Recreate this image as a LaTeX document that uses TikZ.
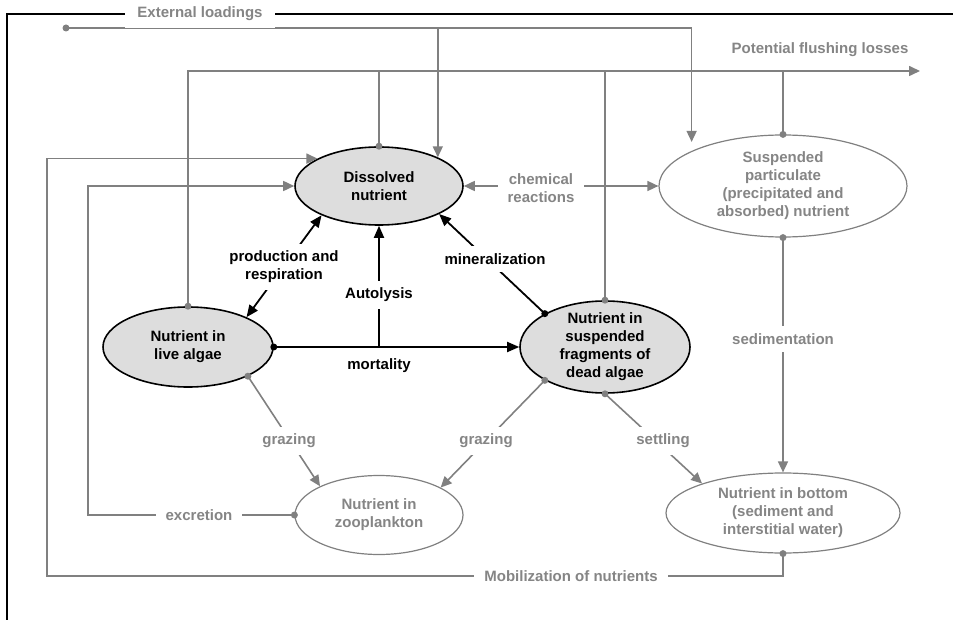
\documentclass[tikz,border=0pt]{standalone}
\usepackage{fontspec}
\setmainfont{Liberation Sans}
\usetikzlibrary{arrows.meta,shapes.geometric,calc}
\definecolor{gline}{HTML}{808080}
\definecolor{gtext}{HTML}{858585}
\definecolor{efill}{HTML}{DDDDDD}
\begin{document}
\begin{tikzpicture}[x=1pt,y=-1pt,
  font=\bfseries\fontsize{15}{18}\selectfont,
  bell/.style={ellipse, draw=black, line width=1.6pt, fill=efill, inner sep=0pt},
  gell/.style={ellipse, draw=gline, line width=1.2pt, fill=white, inner sep=0pt},
  txt/.style={align=center, text=black},
  gtxt/.style={align=center, text=gtext},
  lab/.style={fill=white, inner xsep=10pt, inner ysep=7pt, align=center},
  gcon/.style={draw=gline, line width=1.6pt},
  bcon/.style={draw=black, line width=1.8pt},
  gtip/.style={-{Triangle[length=11pt,width=10pt]}},
  gtips/.style={{Triangle[length=11pt,width=10pt]}-{Triangle[length=11pt,width=10pt]}},
  btip/.style={-{Triangle[length=12pt,width=10pt]}},
  btips/.style={{Triangle[length=12pt,width=10pt]}-{Triangle[length=12pt,width=10pt]}},
]
\useasboundingbox (0,0) rectangle (953,620);

% ellipses
\node[bell, minimum width=168pt, minimum height=78pt] (dis) at (379,186) {};
\node[bell, minimum width=170pt, minimum height=80pt] (live) at (188,347) {};
\node[bell, minimum width=170pt, minimum height=92pt] (dead) at (605,347) {};
\node[gell, minimum width=248pt, minimum height=102pt] (susp) at (783,186) {};
\node[gell, minimum width=168pt, minimum height=79pt] (zoo) at (379,515) {};
\node[gell, minimum width=234pt, minimum height=80pt] (bot) at (783,513) {};

\node[txt] (distxt) at (dis) {Dissolved\\nutrient};
\node[txt] (livetxt) at (live) {Nutrient in\\live algae};
\node[txt] (deadtxt) at (dead) {Nutrient in\\suspended\\fragments of\\dead algae};
\node[gtxt] (susptxt) at (susp) {Suspended\\particulate\\(precipitated and\\absorbed) nutrient};
\node[gtxt] (zootxt) at (zoo) {Nutrient in\\zooplankton};
\node[gtxt] (bottxt) at (bot) {Nutrient in bottom\\(sediment and\\interstitial water)};

% frame
\coordinate (frameR) at (953,14);
\coordinate (frameC) at (7,14);
\coordinate (frameB) at (7,620);
\draw[black, line width=1.1pt] (frameR) -- (frameC) -- (frameB);

% flushing losses
\coordinate (flushEnd) at (920,71);
\draw[gcon, gtip] (live.north) |- (flushEnd);
\draw[gcon] (dis.north) -- (dis.north |- flushEnd);
\draw[gcon] (dead.north) -- (dead.north |- flushEnd);
\draw[gcon] (susp.north) -- (susp.north |- flushEnd);
\foreach \p in {live.north, dis.north, dead.north, susp.north}
  \fill[gline] (\p) circle (3.5);

% external loadings
\coordinate (extStart) at (66,28);
\draw[gcon, gtip, shorten >=9pt] (extStart) -| (susp.159.2);
\draw[gcon, gtip] (extStart -| dis.26) -- (dis.26);
\fill[gline] (extStart) circle (3.5);

% mobilization of nutrients
\coordinate (mobL) at (47,576);
\draw[gcon, gtip] (bot.south) |- (mobL) |- (dis.156);
\fill[gline] (bot.south) circle (3.5);

% excretion
\coordinate (exL) at (88,515);
\draw[gcon, gtip] (zoo.west) -- (exL) |- (dis.west);
\fill[gline] (zoo.west) circle (3.5);

% chemical reactions
\draw[gcon, gtips] (dis.east) -- (susp.west);

% sedimentation
\draw[gcon, gtip] (susp.south) -- (bot.north);
\fill[gline] (susp.south) circle (3.5);

% settling
\draw[gcon, gtip] (dead.south) -- (bot.160);
\fill[gline] (dead.south) circle (3.5);

% grazing
\draw[gcon, gtip] (live.-26) -- (zoo.154);
\fill[gline] (live.-26) circle (3.5);
\draw[gcon, gtip] (dead.-151) -- (zoo.24);
\fill[gline] (dead.-151) circle (3.5);

% black connectors
\draw[bcon, btip] (live.east) -- (dead.west);
\fill[black] (live.east) circle (3.5);
\draw[bcon, btip] (dis.south |- live.east) -- (dis.south);
\draw[bcon, btips] (live.27) -- (dis.-153);
\draw[bcon, btip] (dead.151) -- (dis.-25);
\fill[black] (dead.151) circle (3.5);

% labels
\node[lab, text=gtext, inner xsep=12pt] (lext) at (200,14) {External loadings};
\node[gtxt] (lflush) at (820,50) {Potential flushing losses};
\node[lab, text=gtext] (lchem) at (541,188) {chemical\\reactions};
\node[lab] (lprod) at (284,267) {production and\\respiration};
\node[lab] (lauto) at (379,295) {Autolysis};
\node[lab] (lmin) at (495,259) {mineralization};
\node (lmort) at (379,366) {mortality};
\node[lab, text=gtext] (lsed) at (783,339) {sedimentation};
\node[lab, text=gtext] (lgr1) at (289,441) {grazing};
\node[lab, text=gtext] (lgr2) at (486,441) {grazing};
\node[lab, text=gtext] (lset) at (663,441) {settling};
\node[lab, text=gtext] (lexc) at (199,515) {excretion};
\node[lab, text=gtext] (lmob) at (571,576) {Mobilization of nutrients};
\end{tikzpicture}
\end{document}
